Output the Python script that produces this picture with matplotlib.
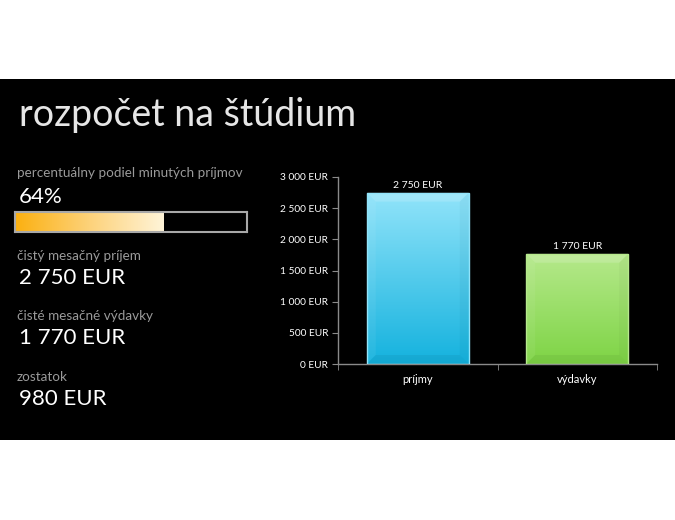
import matplotlib
matplotlib.use("Agg")
import matplotlib.pyplot as plt
import numpy as np
from matplotlib.patches import Rectangle, Polygon
from matplotlib.colors import LinearSegmentedColormap

# ---- data ----
title = "rozpočet na štúdium"
categories = ["príjmy", "výdavky"]
values = [2750, 1770]
value_labels = ["2 750 EUR", "1 770 EUR"]
yticks = [0, 500, 1000, 1500, 2000, 2500, 3000]
ytick_labels = ["0 EUR", "500 EUR", "1 000 EUR", "1 500 EUR", "2 000 EUR", "2 500 EUR", "3 000 EUR"]
percent = 64
percent_label = "percentuálny podiel minutých príjmov"
side_labels = ["čistý mesačný príjem", "čisté mesačné výdavky", "zostatok"]
side_values = ["2 750 EUR", "1 770 EUR", "980 EUR"]

bar_top_colors = ["#92E4FA", "#B6E98C"]
bar_bot_colors = ["#14B2DE", "#7ED445"]

W, H = 675, 520
fig = plt.figure(figsize=(W / 100, H / 100), dpi=100, facecolor="white")
FONT = "Lato"

def fx(px):
    return px / W

def fy(py):
    return 1 - py / H

# black slide band
fig.patches.append(Rectangle((0, fy(440)), 1, fy(79) - fy(440), transform=fig.transFigure,
                             facecolor="black", edgecolor="none", zorder=-5))

fig.text(fx(19), fy(115), title, color="#E6E6E6", fontsize=27, family=FONT,
         va="center", ha="left", zorder=5)

# left side texts
fig.text(fx(17), fy(173), percent_label, color="#9A9A9A", fontsize=9.7, family=FONT,
         va="center", ha="left", zorder=5)
fig.text(fx(19), fy(197), f"{percent}%", color="white", fontsize=16, family=FONT,
         va="center", ha="left", zorder=5)
label_y = [256, 316, 377]
value_y = [278, 338, 399]
for lab, val, ly, vy in zip(side_labels, side_values, label_y, value_y):
    fig.text(fx(17), fy(ly), lab, color="#9A9A9A", fontsize=9.7, family=FONT,
             va="center", ha="left", zorder=5)
    fig.text(fx(19), fy(vy), val, color="white", fontsize=16, family=FONT,
             va="center", ha="left", zorder=5)

# progress bar
pax = fig.add_axes([fx(15), fy(232), fx(247) - fx(15), fy(212) - fy(232)])
pax.set_facecolor("black")
pax.set_xlim(0, 100)
pax.set_ylim(0, 1)
pcmap = LinearSegmentedColormap.from_list("p", ["#FBB010", "#FDD27A", "#FFF4D8"])
pax.imshow(np.linspace(0, 1, 256).reshape(1, -1), cmap=pcmap, aspect="auto",
           extent=[0, percent, 0, 1], zorder=1)
pax.set_xticks([])
pax.set_yticks([])
for s in pax.spines.values():
    s.set_color("#A8A8A8")
    s.set_linewidth(1.5)

# bar chart
ax = fig.add_axes([fx(338), fy(364), fx(657) - fx(338), fy(177) - fy(364)])
ax.set_facecolor("none")
x = np.arange(len(categories))
bars = ax.bar(x, values, width=0.64, color="none", edgecolor="none", zorder=2)
ax.set_xlim(-0.5, len(categories) - 0.5)
ax.set_ylim(0, 3000)

for b, ct, cb, lab in zip(bars, bar_top_colors, bar_bot_colors, value_labels):
    x0, y0 = b.get_x(), b.get_y()
    w, h = b.get_width(), b.get_height()
    cmap = LinearSegmentedColormap.from_list("g", [cb, ct])
    im = ax.imshow(np.linspace(0, 1, 256).reshape(-1, 1), cmap=cmap, aspect="auto",
                   extent=[x0, x0 + w, y0, y0 + h], origin="lower", zorder=2)
    im.set_clip_path(b)
    # bevel: inset in data coords from ~9 px
    inv = ax.transData.inverted()
    p0 = ax.transData.transform((x0, y0))
    dx = inv.transform((p0[0] + 9, p0[1]))[0] - x0
    dy = inv.transform((p0[0], p0[1] + 9))[1] - y0
    xa, xb, ya, yb = x0, x0 + w, y0, y0 + h
    bevels = [
        ([(xa, yb), (xb, yb), (xb - dx, yb - dy), (xa + dx, yb - dy)], "white", 0.16),
        ([(xa, ya), (xa, yb), (xa + dx, yb - dy), (xa + dx, ya + dy)], "white", 0.06),
        ([(xb, ya), (xb, yb), (xb - dx, yb - dy), (xb - dx, ya + dy)], "black", 0.03),
        ([(xa, ya), (xb, ya), (xb - dx, ya + dy), (xa + dx, ya + dy)], "black", 0.05),
    ]
    for pts, c, a in bevels:
        ax.add_patch(Polygon(pts, closed=True, facecolor=c, alpha=a, edgecolor="none", zorder=3))
    ax.add_patch(Rectangle((x0, y0), w, h, facecolor="none", edgecolor=ct, linewidth=1, zorder=4))
    ax.text(x0 + w / 2, y0 + h + 40, lab, ha="center", va="bottom", color="white",
            fontsize=7.5, family=FONT)

ax.set_yticks(yticks)
ax.set_yticklabels(ytick_labels, family=FONT, fontsize=7.3, color="white")
ax.set_xticks(x)
ax.set_xticklabels(categories, family=FONT, fontsize=8, color="white")
ax.set_xticks(np.arange(-0.5, len(categories)), minor=True)
ax.tick_params(axis="x", which="major", length=0, pad=7)
ax.tick_params(axis="x", which="minor", length=4, color="#8A8A8A", direction="out")
ax.tick_params(axis="y", length=4, color="#8A8A8A", pad=3)
for side in ["top", "right"]:
    ax.spines[side].set_visible(False)
for side in ["left", "bottom"]:
    ax.spines[side].set_color("#8A8A8A")
    ax.spines[side].set_linewidth(1)

fig.savefig("out.png", dpi=100, facecolor="white")
